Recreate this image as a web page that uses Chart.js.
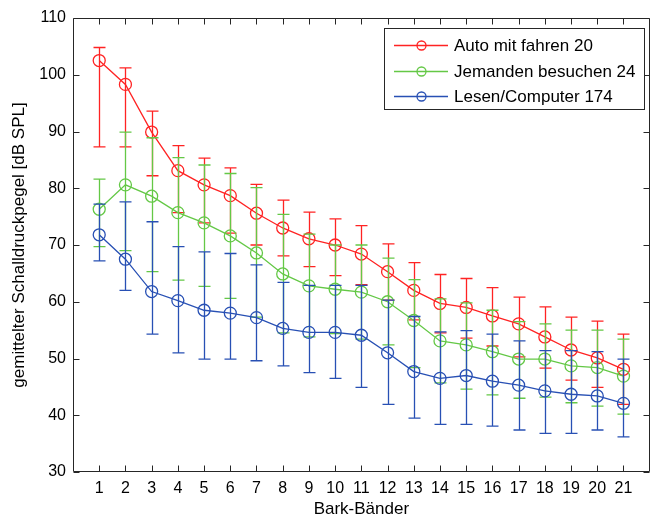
<!DOCTYPE html>
<html>
<head>
<meta charset="utf-8">
<script src="https://cdn.jsdelivr.net/npm/chart.js@4/dist/chart.umd.min.js"></script>
<style>
  html, body { margin: 0; padding: 0; background: #fff; }
  #wrap { width: 657px; height: 518px; position: relative; }
</style>
</head>
<body>
<div id="wrap"><canvas id="myChart" width="657" height="518"></canvas></div>
<script>
// Bark bands 1..21
const bands = [1, 2, 3, 4, 5, 6, 7, 8, 9, 10, 11, 12, 13, 14, 15, 16, 17, 18, 19, 20, 21];
const yTicks = [30, 40, 50, 60, 70, 80, 90, 100, 110];

const seriesNames = ['Auto mit fahren 20', 'Jemanden besuchen 24', 'Lesen/Computer 174'];

// Auto mit fahren 20
const autoMean  = [102.5, 98.3, 89.9, 83.1, 80.6, 78.7, 75.6, 73.0, 71.1, 70.0, 68.4, 65.3, 62.0, 59.7, 59.0, 57.5, 56.1, 53.8, 51.5, 50.1, 48.1];
const autoUpper = [104.8, 101.2, 93.6, 87.5, 85.3, 83.6, 80.7, 77.9, 75.8, 74.6, 73.4, 70.2, 66.9, 64.8, 64.1, 62.5, 60.8, 59.1, 57.3, 56.6, 54.3];
const autoLower = [87.3, 87.3, 82.2, 75.7, 73.9, 72.1, 70.0, 68.1, 66.2, 64.6, 63.0, 60.3, 56.8, 54.5, 53.6, 52.2, 50.3, 48.3, 46.2, 44.9, 41.9];

// Jemanden besuchen 24
const besuchMean  = [76.3, 80.6, 78.6, 75.7, 73.9, 71.6, 68.6, 64.9, 62.8, 62.2, 61.7, 60.0, 56.7, 53.1, 52.4, 51.2, 49.9, 49.9, 48.7, 48.4, 46.9];
const besuchUpper = [81.6, 89.9, 88.9, 85.4, 84.1, 82.6, 80.1, 75.4, 71.9, 70.0, 70.0, 67.7, 63.9, 60.5, 59.8, 58.5, 56.5, 56.1, 55.0, 55.0, 53.4];
const besuchLower = [69.7, 69.0, 65.3, 63.8, 62.7, 60.6, 57.3, 54.5, 53.8, 54.4, 53.4, 52.4, 48.4, 45.7, 44.6, 43.6, 43.0, 43.2, 42.2, 41.6, 40.2];

// Lesen/Computer 174
const lesenMean  = [71.8, 67.5, 61.8, 60.2, 58.5, 58.0, 57.2, 55.3, 54.6, 54.6, 54.1, 51.0, 47.7, 46.5, 47.0, 46.0, 45.3, 44.3, 43.7, 43.4, 42.1];
const lesenUpper = [77.2, 77.6, 74.1, 69.7, 68.8, 68.5, 66.5, 63.4, 62.9, 62.9, 62.9, 60.3, 57.4, 54.7, 54.9, 54.3, 53.1, 51.4, 51.4, 51.2, 49.9];
const lesenLower = [67.2, 62.0, 54.3, 51.0, 49.9, 49.9, 49.6, 48.7, 47.5, 46.5, 44.9, 41.9, 39.5, 38.4, 38.4, 38.1, 37.4, 36.8, 36.8, 37.4, 36.2];

const colors = ['rgb(255,35,35)', 'rgb(100,200,70)', 'rgb(40,80,180)'];
const means = [autoMean, besuchMean, lesenMean];
const uppers = [autoUpper, besuchUpper, lesenUpper];
const lowers = [autoLower, besuchLower, lesenLower];

const FONT = 'Liberation Sans, Arial, Helvetica, sans-serif';
const AXIS_COLOR = '#262626';

// vertical error bars with caps, drawn under each series
const errorBars = {
  id: 'errorBars',
  beforeDatasetDraw(chart, args) {
    const i = args.index;
    const ctx = chart.ctx;
    const xs = chart.scales.x, ys = chart.scales.y;
    ctx.save();
    ctx.strokeStyle = colors[i];
    ctx.lineWidth = 1.3;
    bands.forEach((b, k) => {
      const px = Math.round(xs.getPixelForValue(b)) + 0.5;
      const yt = ys.getPixelForValue(uppers[i][k]);
      const yb = ys.getPixelForValue(lowers[i][k]);
      ctx.beginPath();
      ctx.moveTo(px, yt); ctx.lineTo(px, yb);
      ctx.moveTo(px - 6, yt); ctx.lineTo(px + 6, yt);
      ctx.moveTo(px - 6, yb); ctx.lineTo(px + 6, yb);
      ctx.stroke();
    });
    ctx.restore();
  }
};

// MATLAB style box with inward ticks, and the legend in the upper right
const boxAndLegend = {
  id: 'boxAndLegend',
  afterDraw(chart) {
    const ctx = chart.ctx;
    const a = chart.chartArea;
    const xs = chart.scales.x, ys = chart.scales.y;
    const L = Math.round(a.left) + 0.5, R = Math.round(a.right) - 0.5;
    const T = Math.round(a.top) + 0.5, B = Math.round(a.bottom) - 0.5;
    ctx.save();
    ctx.strokeStyle = AXIS_COLOR;
    ctx.lineWidth = 1;
    ctx.beginPath();
    ctx.rect(L, T, R - L, B - T);
    bands.forEach(b => {
      const px = Math.round(xs.getPixelForValue(b)) + 0.5;
      ctx.moveTo(px, B); ctx.lineTo(px, B - 6);
      ctx.moveTo(px, T); ctx.lineTo(px, T + 6);
    });
    yTicks.forEach(v => {
      const py = Math.round(ys.getPixelForValue(v)) + 0.5;
      ctx.moveTo(L, py); ctx.lineTo(L + 6, py);
      ctx.moveTo(R, py); ctx.lineTo(R - 6, py);
    });
    ctx.stroke();

    // legend
    const lx = 384.5, ly = 28.5, lw = 260, lh = 81;
    ctx.fillStyle = '#fff';
    ctx.fillRect(lx, ly, lw, lh);
    ctx.strokeRect(lx, ly, lw, lh);
    const rows = [45, 70.5, 96];
    ctx.font = '17px ' + FONT;
    ctx.textBaseline = 'middle';
    seriesNames.forEach((name, i) => {
      const y = Math.round(rows[i]) + 0.5;
      ctx.strokeStyle = colors[i];
      ctx.lineWidth = 1.3;
      ctx.beginPath();
      ctx.moveTo(394, y); ctx.lineTo(448, y);
      ctx.stroke();
      ctx.beginPath();
      ctx.arc(421.5, y, 4.5, 0, Math.PI * 2);
      ctx.stroke();
      ctx.fillStyle = '#000';
      ctx.fillText(name, 454, y + 1);
    });
    ctx.restore();
  }
};

const ctx = document.getElementById('myChart').getContext('2d');

const chart = new Chart(ctx, {
  type: 'line',
  data: {
    datasets: means.map((m, i) => ({
      label: seriesNames[i],
      data: bands.map((b, k) => ({ x: b, y: m[k] })),
      borderColor: colors[i],
      backgroundColor: 'rgba(0,0,0,0)',
      borderWidth: 1.3,
      pointRadius: 6,
      pointBorderWidth: 1.3,
      pointBackgroundColor: 'rgba(0,0,0,0)',
      pointBorderColor: colors[i],
      tension: 0,
      fill: false,
      order: 3 - i
    }))
  },
  options: {
    responsive: false,
    animation: false,
    devicePixelRatio: 1,
    layout: {
      padding: { top: 18, right: 5, left: 0, bottom: 0 }
    },
    plugins: {
      legend: { display: false },
      tooltip: { enabled: false }
    },
    scales: {
      x: {
        type: 'linear',
        min: 0,
        max: 22,
        grid: { display: false, drawTicks: false },
        border: { display: false },
        afterBuildTicks: scale => { scale.ticks = bands.map(v => ({ value: v })); },
        afterFit: scale => { scale.height = 46; },
        ticks: {
          autoSkip: false,
          maxRotation: 0,
          padding: 7,
          color: '#000',
          font: { family: FONT, size: 16 },
          callback: v => String(v)
        },
        title: {
          display: true,
          text: 'Bark-Bänder',
          color: '#000',
          font: { family: FONT, size: 17, lineHeight: 1 },
          padding: { top: 0, bottom: 0 }
        }
      },
      y: {
        min: 30,
        max: 110,
        grid: { display: false, drawTicks: false },
        border: { display: false },
        afterBuildTicks: scale => { scale.ticks = yTicks.map(v => ({ value: v })); },
        afterFit: scale => { scale.width = 73; },
        ticks: {
          padding: 7,
          color: '#000',
          font: { family: FONT, size: 16 }
        },
        title: {
          display: true,
          text: 'gemittelter Schalldruckpegel [dB SPL]',
          color: '#000',
          font: { family: FONT, size: 17, lineHeight: 1 },
          padding: { top: 11, bottom: 0 }
        }
      }
    }
  },
  plugins: [errorBars, boxAndLegend]
});
</script>
</body>
</html>
